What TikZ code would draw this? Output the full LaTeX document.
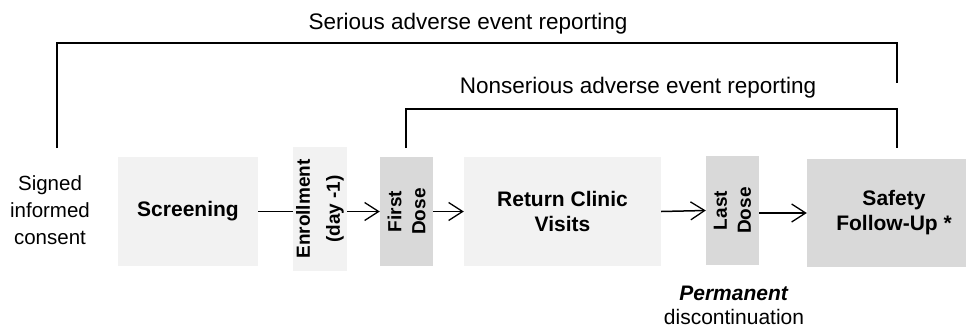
\documentclass[tikz,border=0pt]{standalone}
\usepackage{fontspec}
\setmainfont{Liberation Sans}
\usetikzlibrary{positioning, arrows.meta}
\definecolor{lightbox}{HTML}{F2F2F2}
\definecolor{darkbox}{HTML}{D9D9D9}

\begin{document}
\begin{tikzpicture}[x=1pt, y=-1pt]
\tikzstyle{box}=[inner sep=0pt, align=center, font=\bfseries\fontsize{21}{25}\selectfont]
\tikzstyle{phase}=[box, fill=lightbox]
\tikzstyle{stage}=[box, fill=darkbox]
\tikzstyle{upright}=[rotate=90, font=\bfseries\fontsize{19}{24}\selectfont]
\tikzstyle{arr}=[line width=1.5pt, -{Straight Barb[length=14pt, width=18pt, line width=1.3pt]}]
\tikzstyle{link}=[line width=1.5pt]
\tikzstyle{bracket}=[line width=2pt]
\tikzstyle{report}=[font=\fontsize{22.5}{27}\selectfont]
\useasboundingbox (0,0) rectangle (966,329);
% report brackets
\node[report] (sae) at (468,24) {Serious adverse event reporting};
\node[report] (nsae) at (638,88) {Nonserious adverse event reporting};
\coordinate (saeL) at (57,148); \coordinate (saeR) at (897,83);
\coordinate (nsaeL) at (406,148); \coordinate (nsaeR) at (897,148);
\draw[bracket] (saeL) |- (897,43) -- (saeR);
\draw[bracket] (nsaeL) |- (897,109) -- (nsaeR);
% study flow
\node[align=center, font=\fontsize{20.5}{27}\selectfont] (consent) at (50,210) {Signed\\informed\\consent};
\node[phase, minimum width=140, minimum height=109] (screen) at (188,211.5) {Screening};
\node[phase, upright, minimum width=124, minimum height=54, font=\bfseries\fontsize{19}{30}\selectfont] (enrol) at (320,209) {Enrollment\\(day -1)};
\node[stage, upright, minimum width=109, minimum height=53] (first) at (406.5,211.5) {First\\Dose};
\node[phase, minimum width=197, minimum height=109] (visits) at (562.5,211.5) {Return Clinic\\Visits};
\node[stage, upright, minimum width=109, minimum height=53] (last) at (732.5,210.5) {Last\\Dose};
\node[stage, minimum width=174, minimum height=108] (safety) at (894,213) {Safety\\Follow-Up *};
\node[align=center, font=\fontsize{21}{24}\selectfont] (stop) at (734,305) {\textbf{\textit{Permanent}}\\discontinuation};
\draw[link] (screen.east) -- (screen.east -| enrol.north);
\draw[arr] (enrol.south |- screen.east) -- (screen.east -| first.north);
\draw[arr] (first.south) -- (visits.west);
\draw[arr] (visits.east) -- (last.north);
\draw[arr] (last.south |- safety.west) -- (safety.west);
\end{tikzpicture}
\end{document}
